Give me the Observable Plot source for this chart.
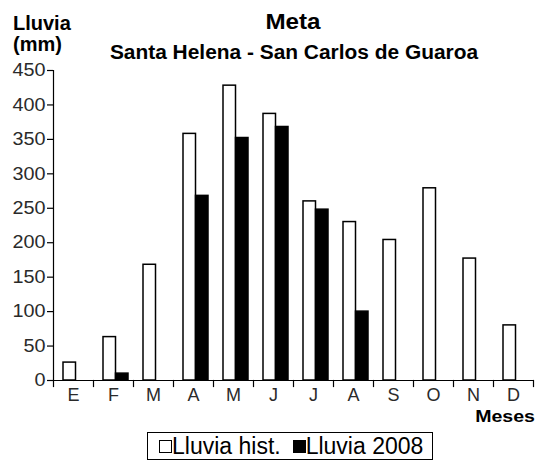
<!DOCTYPE html>
<html><head><meta charset="utf-8">
<script src="https://cdn.jsdelivr.net/npm/d3@7"></script>
<script src="https://cdn.jsdelivr.net/npm/@observablehq/plot@0.6"></script>
<style>
body{margin:0;background:#fff;font-family:"Liberation Sans",Arial,sans-serif}
#wrap{position:relative;width:540px;height:461px;overflow:hidden;background:#fff}
#wrap svg{position:absolute;left:0;top:0}
.t{position:absolute;white-space:nowrap;color:#000;line-height:1}
.b{font-weight:bold}
#legend{position:absolute;left:147px;top:432px;height:28px;box-sizing:border-box;border:1.5px solid #000;display:flex;align-items:center;padding:0 9px 0 11px;gap:12px;font-size:23px;line-height:1;background:#fff}
#legend .item{display:flex;align-items:center}
#legend .sw{display:inline-block;width:13px;height:13px;box-sizing:border-box;border:1px solid #000}
</style></head><body><div id="wrap"></div>
<script>
const monthKeys = ["Ene","Feb","Mar","Abr","May","Jun","Jul","Ago","Sep","Oct","Nov","Dic"];
const monthLabels = ["E","F","M","A","M","J","J","A","S","O","N","D"];
const seriesKeys = ["hist","2008"];
const seriesNames = ["Lluvia hist.","Lluvia 2008"];
const seriesFills = ["#ffffff","#000000"];
const lluviaHist = [26, 63, 168, 358, 428, 387, 260, 230, 204, 279, 177, 80];
const lluvia2008 = [null, 10, null, 268, 352, 368, 248, 100, null, null, null, null];
const yTicks = [0, 50, 100, 150, 200, 250, 300, 350, 400, 450];
const titleText = "Meta";
const subtitleText = "Santa Helena - San Carlos de Guaroa";
const yLabelLines = ["Lluvia", "(mm)"];
const xLabelText = "Meses";

const rows = [];
monthKeys.forEach((m, i) => {
  [lluviaHist, lluvia2008].forEach((arr, s) => {
    if (arr[i] != null) rows.push({month: m, series: seriesKeys[s], value: arr[i]});
  });
});

const plot = Plot.plot({
  width: 540, height: 461,
  marginTop: 70, marginBottom: 81, marginLeft: 53, marginRight: 7,
  style: {fontFamily: "'Liberation Sans', Arial, sans-serif", fontSize: "18px", color: "#000", background: "transparent", overflow: "visible"},
  fx: {domain: monthKeys, padding: 0, round: false, label: null},
  x: {domain: seriesKeys, paddingInner: 0, paddingOuter: 0.6, round: false, axis: null},
  y: {domain: [0, 450]},
  color: {domain: seriesKeys, range: seriesFills},
  marks: [
    Plot.barY(rows, {fx: "month", x: "series", y: "value", fill: "series", stroke: "#000", strokeWidth: 1.5, dx: 2.5}),
    Plot.ruleY([0], {stroke: "#000", strokeWidth: 1.2}),
    Plot.frame({anchor: "left", facetAnchor: "left", stroke: "#000", strokeWidth: 1.2}),
    Plot.frame({anchor: "left", insetTop: 310, insetBottom: -6, stroke: "#000", strokeWidth: 1.2}),
    Plot.frame({anchor: "right", insetTop: 310, insetBottom: -6, facetAnchor: "right", stroke: "#000", strokeWidth: 1.2}),
    Plot.axisY({ticks: yTicks, tickSize: 6, tickPadding: 2, label: null, fontSize: 18, fill: "#2a2a2a", strokeWidth: 1.2}),
    Plot.axisFx({anchor: "bottom", tickSize: 0, tickPadding: 8, label: null, fontSize: 18, fill: "#2a2a2a", tickFormat: d => monthLabels[monthKeys.indexOf(d)]})
  ]
});

const wrap = document.getElementById("wrap");
wrap.appendChild(plot);

// slightly wider tick digits, as in the reference
plot.querySelectorAll('g[aria-label="y-axis tick label"] text').forEach(t => {
  const w = t.getComputedTextLength();
  t.setAttribute("textLength", (w * 1.1).toFixed(2));
  t.setAttribute("lengthAdjust", "spacingAndGlyphs");
});

function addText(txt, cls, css) {
  const d = document.createElement("div");
  d.className = "t " + cls;
  d.textContent = txt;
  Object.assign(d.style, css);
  wrap.appendChild(d);
  return d;
}
addText(titleText, "b", {left: "293px", top: "10.5px", fontSize: "22px", transform: "translateX(-50%) scaleX(1.1)"});
addText(subtitleText, "b", {left: "294px", top: "41.5px", fontSize: "20px", transform: "translateX(-50%) scaleX(1.045)"});
addText(yLabelLines[0], "b", {left: "13px", top: "12.5px", fontSize: "20px"});
addText(yLabelLines[1], "b", {left: "13px", top: "34px", fontSize: "20px"});
addText(xLabelText, "b", {right: "5px", top: "407.5px", fontSize: "17px", transform: "scaleX(1.15)", transformOrigin: "right center"});

const legend = document.createElement("div");
legend.id = "legend";
seriesNames.forEach((name, i) => {
  const item = document.createElement("div");
  item.className = "item";
  const sw = document.createElement("span");
  sw.className = "sw";
  sw.style.background = seriesFills[i];
  item.appendChild(sw);
  const lab = document.createElement("span");
  lab.textContent = name;
  item.appendChild(lab);
  legend.appendChild(item);
});
wrap.appendChild(legend);
</script></body></html>
